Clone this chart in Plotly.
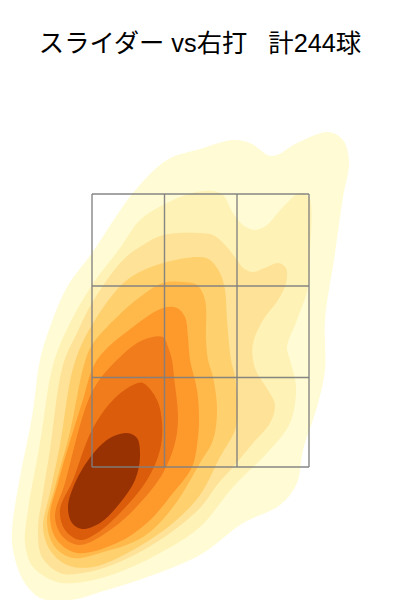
import plotly.graph_objects as go

title_text = "スライダー vs右打\u00a0\u00a0\u00a0計244球"
band_colors = ["#FFFBD4", "#FEF2B6", "#FEE297", "#FED06E", "#FFB84A", "#FE9A2C", "#F07C1C", "#DB5C0A", "#993203"]

l1_x = [200,233,250,272,297,328,343,349,343,335,325,325,317,303,297,280,243,200,133,100,77,57,40,23,13,12,20,32,40,50,67,92,133,167,200]
l1_y = [149,140,143,156,143,132,140,162,197,253,320,370,407,450,483,505,523,555,582,592,599,600,598,580,550,530,477,417,360,327,287,253,193,160,149]
l2_x = [163,192,213,223,233,243,255,267,283,300,309,310,308,297,287,290,296,290,267,233,200,160,117,83,57,33,25,28,40,53,68,92,120,140,163]
l2_y = [205,193,191,195,213,225,230,225,207,193,197,253,287,320,347,360,387,423,453,487,527,553,573,582,582,567,543,510,443,365,327,285,248,220,205]
l3_x = [163,200,213,225,237,243,253,267,278,286,286,278,263,253,253,257,268,275,270,253,233,217,200,160,117,83,60,42,38,43,50,63,77,92,123,143,163]
l3_y = [235,233,235,245,260,268,272,267,263,268,283,300,320,343,360,373,390,405,423,443,467,485,508,540,563,573,573,557,530,493,450,365,333,303,260,245,235]
l4_x = [163,200,210,220,225,227,231,235,238,235,220,200,173,133,93,67,50,43,50,60,74,92,127,163]
l4_y = [263,257,260,273,290,320,360,377,410,430,457,495,523,550,567,565,550,527,493,445,365,325,280,263]
l5_x = [163,183,197,205,206,208,213,217,213,200,173,143,100,73,55,47,55,70,84,92,117,140,163]
l5_y = [283,282,285,300,340,360,377,410,440,463,507,537,553,558,547,523,487,432,365,345,317,297,283]
l6_x = [163,177,185,188,190,197,199,198,192,173,147,117,77,57,50,58,82,97,133,163]
l6_y = [308,308,317,337,360,390,417,437,467,493,523,543,553,540,517,483,403,360,327,308]
l7_x = [163,168,172,174,178,175,163,140,113,80,63,55,65,92,117,143,163]
l7_y = [337,347,360,377,417,443,473,503,528,545,537,517,483,392,360,340,337]
l8_x = [143,157,162,160,147,120,97,80,65,60,73,92,113,133,143]
l8_y = [383,400,423,450,480,513,533,540,530,510,480,430,400,385,383]
l9_x = [127,137,140,135,120,100,82,72,68,75,92,110,127]
l9_y = [433,438,457,480,503,523,529,523,507,483,455,438,433]

zone_x = [92, 164.5, 237, 309]
zone_y = [194, 286, 377.5, 467]

bands = [(l1_x,l1_y),(l2_x,l2_y),(l3_x,l3_y),(l4_x,l4_y),(l5_x,l5_y),(l6_x,l6_y),(l7_x,l7_y),(l8_x,l8_y),(l9_x,l9_y)]

fig = go.Figure()
for (bx, by), color in zip(bands, band_colors):
    fig.add_trace(go.Scatter(x=bx, y=by, mode="lines", fill="toself", fillcolor=color,
                             line=dict(width=0, shape="spline", smoothing=1.0, color=color),
                             hoverinfo="skip", showlegend=False))

gx, gy = [], []
for v in zone_x:
    gx += [v, v, None]
    gy += [zone_y[0], zone_y[-1], None]
for h in zone_y:
    gx += [zone_x[0], zone_x[-1], None]
    gy += [h, h, None]
fig.add_trace(go.Scatter(x=gx, y=gy, mode="lines", line=dict(color="rgba(128,128,128,0.95)", width=1.4),
                         hoverinfo="skip", showlegend=False))

fig.update_layout(
    width=400, height=600, margin=dict(l=0, r=0, t=0, b=0),
    paper_bgcolor="white", plot_bgcolor="white",
    title=dict(text=title_text, x=0.5, xanchor="center", y=0.928, yanchor="middle",
               font=dict(family="Liberation Sans, Noto Sans CJK JP", size=25.3, color="black")),
    xaxis=dict(range=[0, 400], visible=False),
    yaxis=dict(range=[600, 0], visible=False),
)
fig.write_html("out.html", config=dict(displayModeBar=False), post_script="document.body.style.margin='0';")
